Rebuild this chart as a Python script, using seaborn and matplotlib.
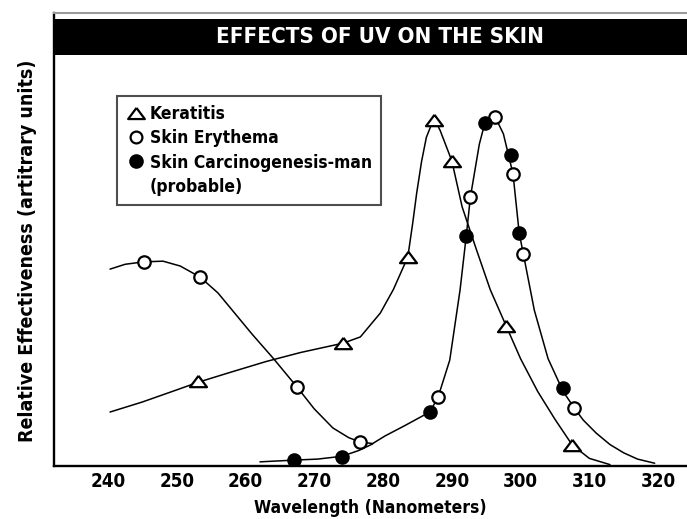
import matplotlib
matplotlib.use("Agg")
import matplotlib.pyplot as plt
from matplotlib.lines import Line2D
from matplotlib.patches import Rectangle
import seaborn as sns

# marker readings (wavelength nm, relative effectiveness)
keratitis_x = [253.1, 274.2, 283.6, 287.4, 290.0, 297.9, 307.5]
keratitis_y = [2.46, 3.55, 6.04, 10.0, 8.82, 4.05, 0.61]

erythema_x = [245.2, 253.4, 267.5, 276.7, 288.0, 292.7, 296.3, 298.9, 300.4, 307.8]
erythema_y = [5.90, 5.46, 2.28, 0.69, 1.99, 7.77, 10.09, 8.44, 6.13, 1.68]

carcino_x = [267.1, 274.0, 286.8, 292.1, 294.8, 298.6, 299.8, 306.2]
carcino_y = [0.17, 0.26, 1.56, 6.65, 9.91, 8.99, 6.73, 2.25]

# points
keratitis_curve_x = [240.3, 245.0, 250.0, 253.1, 258.0, 263.0, 268.0, 274.2, 276.7, 279.6,
                     281.5, 283.6, 284.3, 284.9, 285.6, 286.3, 287.4, 288.3, 290.0, 291.5,
                     293.5, 295.6, 297.9, 300.0, 302.5, 305.0, 307.5, 310.0, 313.0]
keratitis_curve_y = [1.56, 1.85, 2.20, 2.42, 2.72, 3.02, 3.28, 3.55, 3.73, 4.42,
                     5.10, 6.04, 7.00, 7.90, 8.80, 9.50, 10.05, 9.70, 8.82, 7.49,
                     6.30, 5.09, 4.05, 3.10, 2.15, 1.35, 0.61, 0.22, 0.04]

erythema_curve_x = [240.3, 242.5, 245.2, 248.0, 250.5, 253.4, 256.0, 258.5, 261.0, 264.0,
                    267.5, 270.0, 272.7, 275.0, 276.7, 278.5, 280.3, 283.0, 286.8, 288.0,
                    289.7, 291.2, 292.1, 292.7, 294.0, 294.8, 296.3, 297.5, 298.9, 299.8,
                    300.4, 302.0, 304.0, 306.2, 307.8, 309.1, 311.0, 313.0, 315.0, 317.0,
                    319.5]
erythema_curve_y = [5.69, 5.83, 5.90, 5.92, 5.78, 5.46, 5.00, 4.40, 3.80, 3.12,
                    2.28, 1.65, 1.10, 0.82, 0.69, 0.65, 0.87, 1.15, 1.56, 1.99,
                    3.06, 5.09, 6.65, 7.77, 9.30, 9.91, 10.09, 9.60, 8.44, 6.73,
                    6.13, 4.50, 3.10, 2.15, 1.68, 1.33, 0.95, 0.62, 0.38, 0.20,
                    0.08]

carcino_curve_x = [262.1, 267.1, 270.5, 274.0, 276.5, 278.5]
carcino_curve_y = [0.12, 0.17, 0.20, 0.28, 0.45, 0.64]

xticks = [240, 250, 260, 270, 280, 290, 300, 310, 320]
yticks = [1, 2, 3, 4, 5, 6, 7, 8, 9, 10, 11]

sns.set_style("white")
plt.rcParams['font.family'] = ['DejaVu Sans']
plt.rcParams['font.stretch'] = 'condensed'
plt.rcParams['font.weight'] = 'bold'
plt.rcParams['text.color'] = 'black'
plt.rcParams['axes.labelcolor'] = 'black'
plt.rcParams['xtick.color'] = 'black'
plt.rcParams['ytick.color'] = 'black'

fig = plt.figure(figsize=(6.87, 5.19), dpi=100)
ax = fig.add_axes([54 / 687, 53 / 519, 633 / 687, 453 / 519])

# curves
for cx, cy in [(keratitis_curve_x, keratitis_curve_y),
               (erythema_curve_x, erythema_curve_y),
               (carcino_curve_x, carcino_curve_y)]:
    sns.lineplot(x=cx, y=cy, sort=False, estimator=None, color="black", lw=1.1, ax=ax)

# markers
tri = [(0, 0.667), (-1, -0.667), (1, -0.667), (0, 0.667)]
sns.scatterplot(x=keratitis_x, y=keratitis_y, marker=tri, s=150, facecolor="white",
                edgecolor="black", linewidth=1.6, zorder=3, ax=ax)
sns.scatterplot(x=erythema_x, y=erythema_y, marker="o", s=80, facecolor="white",
                edgecolor="black", linewidth=1.6, zorder=3, ax=ax)
sns.scatterplot(x=carcino_x, y=carcino_y, marker="o", s=90, facecolor="black",
                edgecolor="black", linewidth=1.0, zorder=4, ax=ax)

ax.set_xlim(232.15, 324.2)
ax.set_ylim(0, 453 / 34.6)
ax.set_xticks(xticks)
ax.set_yticks(yticks)
ax.set_yticklabels([])
ax.tick_params(axis="both", direction="in", length=10, width=1.3, color="black")
ax.tick_params(axis="x", labelsize=13.5, pad=4, labelcolor="black")
for lab in ax.get_xticklabels():
    lab.set_fontweight("bold")

for side in ["left", "bottom"]:
    ax.spines[side].set_color("black")
    ax.spines[side].set_linewidth(1.7)
ax.spines["right"].set_visible(False)
ax.spines["top"].set_color("#9a9a9a")
ax.spines["top"].set_linewidth(1.5)

ax.set_xlabel("Wavelength (Nanometers)", fontsize=12.5, fontweight="bold", labelpad=6)
ax.set_ylabel("Relative Effectiveness (artitrary units)", fontsize=14, fontweight="bold")
ax.yaxis.set_label_coords(-0.027, 0.476)

# title bar
ax.add_patch(Rectangle((0, (466 - 55) / 453), 1, 36 / 453, transform=ax.transAxes,
                       facecolor="black", edgecolor="none", clip_on=False, zorder=5))
ax.text(0.515, (466 - 37) / 453, "EFFECTS OF UV ON THE SKIN", transform=ax.transAxes,
        ha="center", va="center", color="white", fontsize=16, fontweight="bold", zorder=6)

# legend
handles = [
    Line2D([], [], marker=tri, markersize=12, markerfacecolor="white", markeredgecolor="black",
           markeredgewidth=1.6, linestyle="none"),
    Line2D([], [], marker="o", markersize=8.5, markerfacecolor="white", markeredgecolor="black",
           markeredgewidth=1.6, linestyle="none"),
    Line2D([], [], marker="o", markersize=9.5, markerfacecolor="black", markeredgecolor="black",
           linestyle="none"),
    Line2D([], [], linestyle="none"),
]
labels = ["Keratitis", "Skin Erythema", "Skin Carcinogenesis-man", "(probable)"]
leg = ax.legend(handles, labels, loc="upper left", bbox_to_anchor=((117 - 54) / 633, (466 - 96) / 453),
                borderaxespad=0, frameon=True, fancybox=False, edgecolor="#222222",
                prop={"size": 12.5, "weight": "bold", "stretch": "condensed"},
                handlelength=1.2, handletextpad=0.2, labelspacing=0.37, borderpad=0.5)
leg.get_frame().set_linewidth(1.5)
for t in leg.get_texts():
    t.set_color("black")

fig.savefig("out.png", dpi=100)
